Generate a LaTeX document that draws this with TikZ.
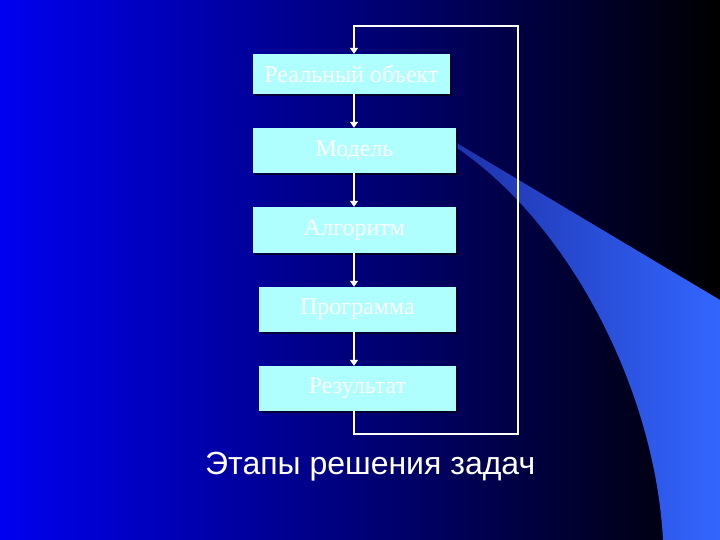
\documentclass[tikz,border=0pt]{standalone}
\usepackage{fontspec}
\setmainfont{Liberation Serif}
\newfontfamily\titlefont{Liberation Sans}
\usetikzlibrary{arrows.meta}
\definecolor{boxfill}{RGB}{176,255,255}
\definecolor{wedge}{RGB}{51,102,255}
\definecolor{wedgetip}{RGB}{30,50,170}
\begin{document}
\begin{tikzpicture}[x=1pt,y=-1pt,
  stagebox/.style={rectangle, fill=boxfill, draw=none, text=white,
    font=\fontsize{24}{26}\selectfont, inner sep=0pt},
  flow/.style={draw=white, line width=2.4pt,
    -{Triangle[width=8pt,length=6pt]}},
  boxshadow/.style={fill=black, fill opacity=0.6}]
\useasboundingbox (0,0) rectangle (720,540);
% background
\shade[left color={rgb,255:red,0;green,0;blue,240},
       middle color={rgb,255:red,0;green,0;blue,145},
       right color=black]
  (0,0) rectangle (720,540);
% light blue wedge
\shade[left color=wedgetip, right color=wedge]
  (455,142) -- (720,300) -- (720,540) -- (663,540)
  .. controls (655,390) and (570,225) .. (457,148) -- cycle;
% box shadows
\fill[boxshadow] (255,56) rectangle (452,96);
\fill[boxshadow] (255,130) rectangle (458,175);
\fill[boxshadow] (255,209) rectangle (458,255);
\fill[boxshadow] (261,289) rectangle (458,334);
\fill[boxshadow] (261,368) rectangle (458,413);
% boxes
\node[stagebox, minimum width=197, minimum height=40] (b1) at (351.5,74) {Реальный объект};
\node[stagebox, minimum width=203, minimum height=45] (b2) at (354.5,150.5) {Модель};
\node[stagebox, minimum width=203, minimum height=46] (b3) at (354.5,230) {Алгоритм};
\node[stagebox, minimum width=197, minimum height=45] (b4) at (357.5,309.5) {Программа};
\node[stagebox, minimum width=197, minimum height=45] (b5) at (357.5,388.5) {Результат};
% connectors
\coordinate (ax) at (354,0);
\coordinate (lr) at (518,434);
\coordinate (ur) at (518,26);
\draw[flow] (b1.south -| ax) -- (b2.north -| ax);
\draw[flow] (b2.south -| ax) -- (b3.north -| ax);
\draw[flow] (b3.south -| ax) -- (b4.north -| ax);
\draw[flow] (b4.south -| ax) -- (b5.north -| ax);
\draw[flow] (b5.south -| ax) |- (lr) -- (ur) -| (b1.north -| ax);
% title
\node[anchor=base west, inner sep=0pt, text=white,
  font=\titlefont\fontsize{32}{35}\selectfont] (title) at (205,474) {Этапы решения задач};
\end{tikzpicture}
\end{document}
